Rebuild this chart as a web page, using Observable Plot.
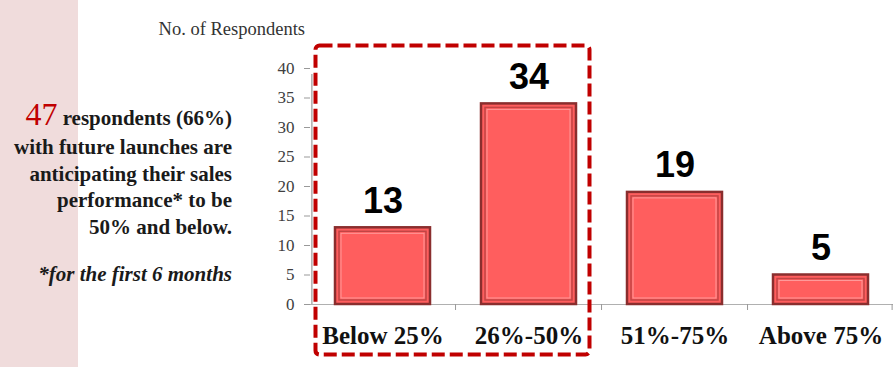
<!DOCTYPE html>
<html><head><meta charset="utf-8">
<script src="https://cdn.jsdelivr.net/npm/d3@7"></script>
<script src="https://cdn.jsdelivr.net/npm/@observablehq/plot@0.6"></script>
<style>
body{margin:0;background:#fff;}
#wrap{position:relative;width:896px;height:367px;overflow:hidden;}
#wrap svg{position:absolute;left:0;top:0;}
.serif{font-family:"Liberation Serif","Times New Roman",serif;}
</style></head>
<body><div id="wrap"></div>
<script>
const categories = ["Below 25%", "26%-50%", "51%-75%", "Above 75%"];
const respondents = [13, 34, 19, 5];
const yTicks = [0, 5, 10, 15, 20, 25, 30, 35, 40];
const axisTitle = "No. of Respondents";
const noteNumber = "47";
const noteLines = ["respondents (66%)", "with future launches are", "anticipating their sales", "performance* to be", "50% and below."];
const footnote = "*for the first 6 months";

const data = categories.map((c, i) => ({category: c, value: respondents[i]}));
const pi = 0.346, po = 0.157, rangeW = 583;
const step = rangeW / (categories.length - pi + 2 * po);
const halfStep = step / 2;
const bw = step * (1 - pi);
const leftOff = step * po + bw / 2;

const chart = Plot.plot({
  width: 896, height: 367,
  marginLeft: 310, marginRight: 3, marginTop: 68, marginBottom: 63,
  style: {background: "transparent", fontFamily: "'Liberation Serif', serif"},
  x: {domain: categories, paddingInner: pi, paddingOuter: po, label: null},
  y: {domain: [0, 40], label: null},
  marks: [
    Plot.ruleY([0], {stroke: "#b0b0b0", strokeWidth: 1.2}),
    Plot.ruleX([categories[0]], {x: d => d, dx: -leftOff, y1: 0, y2: 40, insetBottom: -6, stroke: "#999", strokeWidth: 1.2}),
    Plot.ruleX(categories.slice(1), {x: d => d, dx: -halfStep, y1: 0, y2: 0, insetBottom: -6, stroke: "#999"}),
    Plot.ruleX([categories[categories.length - 1]], {x: d => d, dx: leftOff, y1: 0, y2: 0, insetBottom: -6, stroke: "#999"}),
    Plot.axisY({ticks: yTicks, tickSize: 6, tickPadding: 10, fontSize: 17, stroke: "#999", fill: "#404040", fontFamily: "'Liberation Serif', serif"}),
    Plot.axisX({tickSize: 0, tickPadding: 22, fontSize: 25, fontWeight: "bold", fill: "#111", fontFamily: "'Liberation Serif', serif"}),
    Plot.barY(data, {x: "category", y: "value", fill: "#ff5e5e", stroke: "#8a2e2e", strokeWidth: 2.5}),
    Plot.barY(data, {x: "category", y: "value", fill: "none", stroke: "#c24444", strokeWidth: 1.5, inset: 4}),
    Plot.barY(data, {x: "category", y: "value", fill: "none", stroke: "#ff9a9a", strokeWidth: 1, inset: 6}),
    Plot.text(data, {x: "category", y: "value", text: d => String(d.value), lineAnchor: "bottom", dy: -15, fontSize: 36, fontWeight: "bold", fill: "#000", fontFamily: "'Liberation Sans', Arial, sans-serif"})
  ]
});
const wrap = document.getElementById("wrap");

const ns = "http://www.w3.org/2000/svg";
const bg = document.createElementNS(ns, "svg");
bg.setAttribute("width", 896); bg.setAttribute("height", 367);
bg.innerHTML = `<rect x="0" y="0" width="78" height="367" fill="#f0dcdc"/>`;
wrap.appendChild(bg);
wrap.appendChild(chart);

const ov = document.createElementNS(ns, "svg");
ov.setAttribute("width", 896); ov.setAttribute("height", 367);
const baselines = [125, 154, 181, 207, 234];
let html = `<g class="serif" text-anchor="end" fill="#1a1a1a" font-weight="bold" font-size="21">`;
html += `<text x="232" y="${baselines[0]}"><tspan fill="#c00000" font-size="32" font-weight="normal">${noteNumber}</tspan> ${noteLines[0]}</text>`;
for (let i = 1; i < noteLines.length; i++) html += `<text x="232" y="${baselines[i]}">${noteLines[i]}</text>`;
html += `<text x="232" y="281" font-style="italic">${footnote}</text></g>`;
html += `<text class="serif" x="305" y="35" text-anchor="end" font-size="18.5" fill="#333">${axisTitle}</text>`;
html += `<rect x="315.5" y="45.5" width="274" height="309" rx="4" fill="none" stroke="#c00000" stroke-width="4" stroke-dasharray="13 5"/>`;
ov.innerHTML = html;
wrap.appendChild(ov);
</script>
</body></html>
